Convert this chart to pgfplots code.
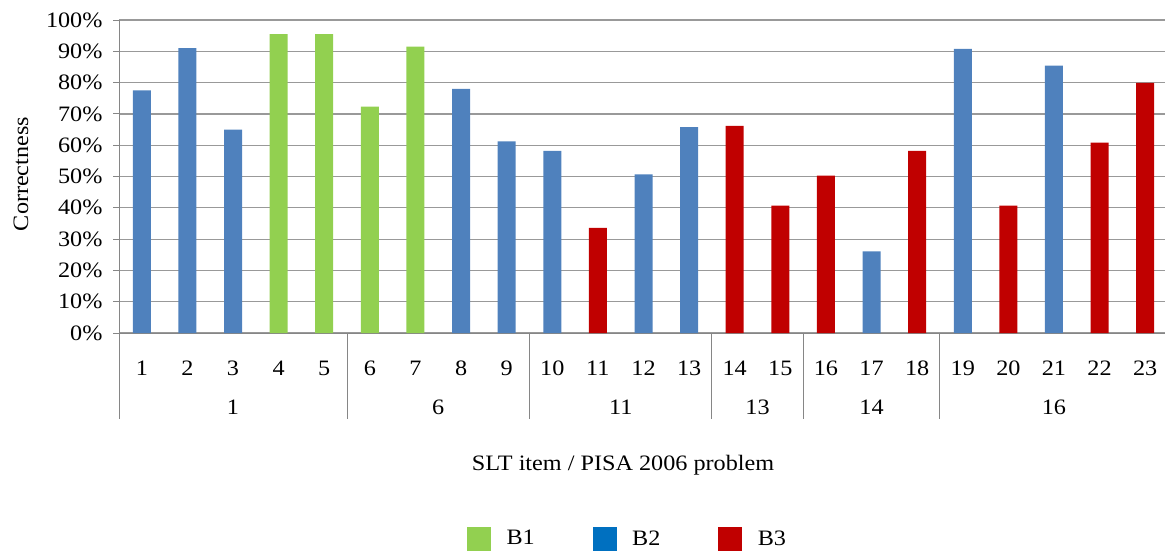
\documentclass[border=0pt]{standalone}
\usepackage{pgfplots}
\pgfplotsset{compat=1.18}
\usepackage{fontspec}
\setmainfont[FakeStretch=1.1]{Liberation Serif}
\definecolor{cBone}{HTML}{92D050}
\definecolor{cBtwo}{HTML}{4F81BD}
\definecolor{cBtwoL}{HTML}{0070C0}
\definecolor{cBthree}{HTML}{C00000}
\definecolor{gridc}{HTML}{999999}
\definecolor{axc}{HTML}{868686}
\begin{document}
\begin{tikzpicture}
\path[use as bounding box] (0pt,0pt) rectangle (1165pt,550pt);
\begin{axis}[
  at={(119pt,217pt)}, anchor=south west,
  scale only axis, width=1049pt, height=313pt,
  font=\fontsize{22}{26}\selectfont,
  xmin=0.5, xmax=23.5, ymin=0, ymax=100,
  axis lines*=left,
  axis line style={axc, line width=1pt},
  ymajorgrids, grid style={gridc, line width=1.2pt},
  ytick={0,10,...,100},
  yticklabels={0\%,10\%,20\%,30\%,40\%,50\%,60\%,70\%,80\%,90\%,100\%},
  xtick={1,...,23},
  xticklabels={1,2,3,4,5,6,7,8,9,10,11,12,13,14,15,16,17,18,19,20,21,22,23},
  x tick style={draw=none},
  y tick style={axc, line width=1pt},
  tick align=outside, major tick length=6pt,
  xticklabel style={anchor=center, yshift=-29pt},
  yticklabel style={anchor=east, xshift=-7pt},
  xlabel={SLT item / PISA 2006 problem},
  xlabel style={at={(axis description cs:0.4805,-0.4217)}, anchor=center},
  ylabel={Correctness},
  ylabel style={at={(axis description cs:-0.0934,0.508)}, anchor=center, rotate=0},
  clip=false,
  legend columns=3,
  legend style={at={(axis description cs:0.3317,-0.6565)}, anchor=west, draw=none, fill=none, inner sep=0pt,
    /tikz/every even column/.append style={column sep=56pt},
    /tikz/every odd column/.append style={column sep=14pt}},
  legend cell align=left,
]
\addlegendimage{legend image code/.code={\fill[cBone] (0pt,-11.5pt) rectangle (23pt,11.5pt);}}
\addlegendentry{B1}
\addlegendimage{legend image code/.code={\fill[cBtwoL] (0pt,-11.5pt) rectangle (23pt,11.5pt);}}
\addlegendentry{B2}
\addlegendimage{legend image code/.code={\fill[cBthree] (0pt,-11.5pt) rectangle (23pt,11.5pt);}}
\addlegendentry{B3}

\addplot[ybar, bar width=18pt, bar shift=0pt, fill=cBone, draw=none, forget plot]
  coordinates {(4,95.5) (5,95.5) (6,72.3) (7,91.5)};
\addplot[ybar, bar width=18pt, bar shift=0pt, fill=cBtwo, draw=none, forget plot]
  coordinates {(1,77.5) (2,91.0) (3,65.0) (8,78.0) (9,61.2) (10,58.2) (12,50.7) (13,65.8) (17,26.1) (19,90.8) (21,85.4)};
\addplot[ybar, bar width=18pt, bar shift=0pt, fill=cBthree, draw=none, forget plot]
  coordinates {(11,33.6) (14,66.2) (15,40.7) (16,50.3) (18,58.2) (20,40.7) (22,60.8) (23,79.9)};

\pgfplotsinvokeforeach{0.5,5.5,9.5,13.5,15.5,18.5,23.5}{
  \draw[axc, line width=1pt] (axis cs:#1,0) -- ++(0pt,-86pt);
}
\node at (axis cs:3,0) [yshift=-74pt] {1};
\node at (axis cs:7.5,0) [yshift=-74pt] {6};
\node at (axis cs:11.5,0) [yshift=-74pt] {11};
\node at (axis cs:14.5,0) [yshift=-74pt] {13};
\node at (axis cs:17,0) [yshift=-74pt] {14};
\node at (axis cs:21,0) [yshift=-74pt] {16};
\end{axis}
\end{tikzpicture}
\end{document}
